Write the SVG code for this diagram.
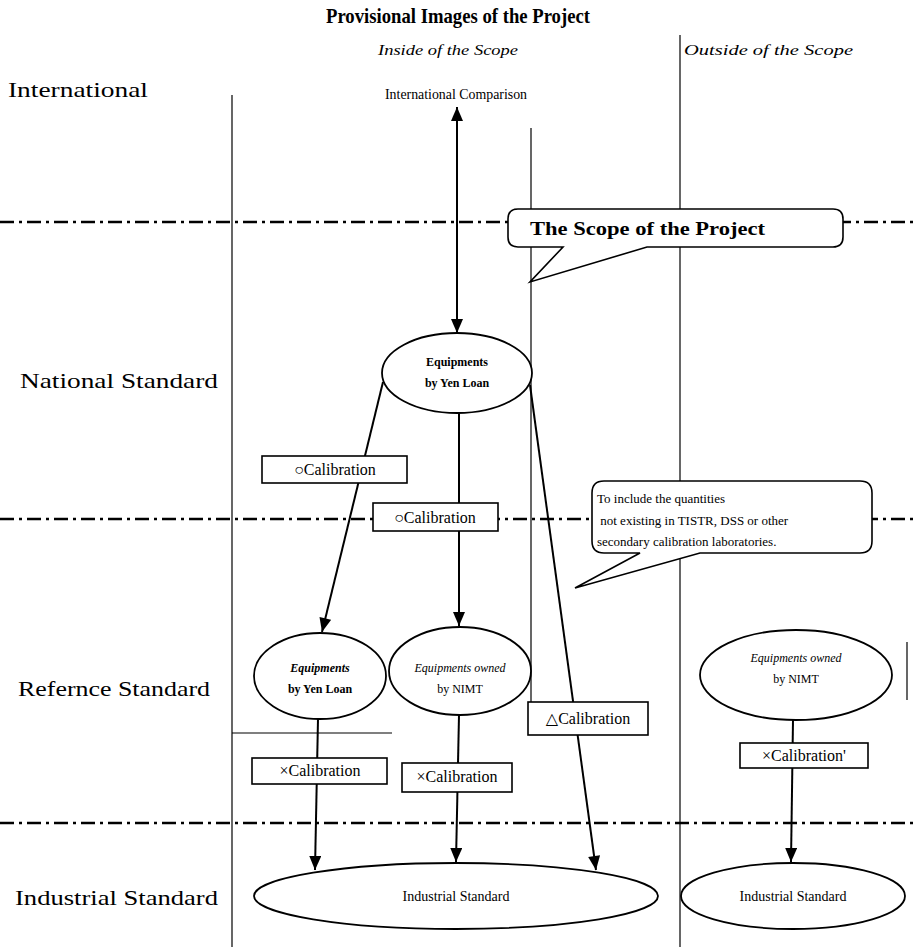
<svg xmlns="http://www.w3.org/2000/svg" width="915" height="947" viewBox="0 0 915 947">
<defs>
<marker id="ah" viewBox="0 0 14 12" refX="14" refY="6" markerWidth="15" markerHeight="12" markerUnits="userSpaceOnUse" orient="auto-start-reverse">
<path d="M0,0 L14,6 L0,12 Z" fill="#000"/>
</marker>
<style>
text{font-family:"Liberation Serif","DejaVu Serif",serif;fill:#000}
.lbl{font-size:21px}
.it{font-style:italic;font-size:15px}
.node{fill:#fff;stroke:#000;stroke-width:1.8}
.box{fill:#fff;stroke:#000;stroke-width:1.6}
.cal{font-size:16px;text-anchor:middle}
.small{font-size:12px;text-anchor:middle}
.b{font-weight:bold}
.ddot{stroke:#000;stroke-width:2.6;stroke-dasharray:14 5 3 5;fill:none}
.thin{stroke:#000;stroke-width:1.2;fill:none}
.conn{stroke:#000;stroke-width:2;fill:none}
</style>
</defs>
<rect width="915" height="947" fill="#fff"/>

<g id="title">
<text x="326" y="23" font-size="21" font-weight="bold" textLength="264" lengthAdjust="spacingAndGlyphs">Provisional Images of the Project</text>
<text class="it" x="378" y="55" textLength="140" lengthAdjust="spacingAndGlyphs">Inside of the Scope</text>
<text class="it" x="684" y="55" textLength="169" lengthAdjust="spacingAndGlyphs">Outside of the Scope</text>
</g>

<g id="grid">
<line class="thin" x1="232" y1="95" x2="232" y2="947" stroke-width="1"/>
<line class="thin" x1="680" y1="35" x2="680" y2="947"/>
<line class="thin" x1="531" y1="128" x2="531" y2="705"/>
<line class="thin" x1="232" y1="733" x2="392" y2="733"/>
<line class="thin" x1="907" y1="642" x2="907" y2="700"/>
<line class="ddot" x1="0" y1="222" x2="915" y2="222"/>
<line class="ddot" x1="0" y1="519" x2="915" y2="519"/>
<line class="ddot" x1="0" y1="823" x2="915" y2="823"/>
</g>

<g id="levels">
<text class="lbl" x="8" y="97" textLength="140" lengthAdjust="spacingAndGlyphs">International</text>
<text class="lbl" x="20" y="388" textLength="198" lengthAdjust="spacingAndGlyphs">National Standard</text>
<text class="lbl" x="18" y="696" textLength="192" lengthAdjust="spacingAndGlyphs">Refernce Standard</text>
<text class="lbl" x="15" y="905" textLength="203" lengthAdjust="spacingAndGlyphs">Industrial Standard</text>
</g>

<g id="connectors">
<line class="conn" x1="457" y1="107" x2="457" y2="333" marker-start="url(#ah)" marker-end="url(#ah)"/>
<line class="conn" x1="383" y1="382" x2="322" y2="632" marker-end="url(#ah)"/>
<line class="conn" x1="459" y1="413" x2="459" y2="626" marker-end="url(#ah)"/>
<line class="conn" x1="530" y1="385" x2="596" y2="870" marker-end="url(#ah)"/>
<line class="conn" x1="318" y1="719" x2="315" y2="870" marker-end="url(#ah)"/>
<line class="conn" x1="459" y1="715" x2="456" y2="862" marker-end="url(#ah)"/>
<line class="conn" x1="793" y1="720" x2="791" y2="862" marker-end="url(#ah)"/>
</g>

<g id="intl-comparison">
<text x="456" y="99" font-size="14" text-anchor="middle" textLength="142" lengthAdjust="spacingAndGlyphs">International Comparison</text>
</g>

<g id="scope-callout">
<path class="box" d="M518,209 H833 Q843,209 843,219 V237 Q843,247 833,247 H647 L530,282 L563,247 H518 Q508,247 508,237 V219 Q508,209 518,209 Z"/>
<text x="530" y="235" font-size="18" font-weight="bold" textLength="235" lengthAdjust="spacingAndGlyphs">The Scope of the Project</text>
</g>

<g id="note-callout">
<path class="box" d="M604,481 H860 Q872,481 872,493 V541 Q872,553 860,553 H700 L575,588 L640,553 H604 Q592,553 592,541 V493 Q592,481 604,481 Z"/>
<text x="597" y="503" font-size="13">To include the quantities</text>
<text x="597" y="525" font-size="13" xml:space="preserve"> not existing in TISTR, DSS or other</text>
<text x="597" y="546" font-size="13">secondary calibration laboratories.</text>
</g>

<g id="nat-yen">
<ellipse class="node" cx="457" cy="373" rx="75" ry="40"/>
<text class="small b" x="457" y="366">Equipments</text>
<text class="small b" x="457" y="387">by Yen Loan</text>
</g>

<g id="cal-o1">
<rect class="box" x="262" y="456" width="145" height="27"/>
<text class="cal" x="335" y="475">○Calibration</text>
</g>
<g id="cal-o2">
<rect class="box" x="373" y="503" width="125" height="28"/>
<text class="cal" x="435" y="523">○Calibration</text>
</g>

<g id="ref-yen">
<ellipse class="node" cx="320" cy="676" rx="66" ry="43"/>
<text class="small b" x="320" y="672" font-style="italic">Equipments</text>
<text class="small b" x="320" y="693">by Yen Loan</text>
</g>
<g id="ref-nimt">
<ellipse class="node" cx="460" cy="671" rx="71" ry="44"/>
<text class="small" x="460" y="672" font-style="italic">Equipments owned</text>
<text class="small" x="460" y="693">by NIMT</text>
</g>
<g id="ref-nimt-out">
<ellipse class="node" cx="796" cy="675" rx="96" ry="45"/>
<text class="small" x="796" y="662" font-style="italic">Equipments owned</text>
<text class="small" x="796" y="683">by NIMT</text>
</g>

<g id="cal-d">
<rect class="box" x="528" y="702" width="120" height="33"/>
<text class="cal" x="588" y="724">△Calibration</text>
</g>
<g id="cal-x1">
<rect class="box" x="252" y="758" width="135" height="26"/>
<text class="cal" x="320" y="776" font-size="15">×Calibration</text>
</g>
<g id="cal-x2">
<rect class="box" x="402" y="763" width="110" height="29"/>
<text class="cal" x="457" y="782" font-size="15">×Calibration</text>
</g>
<g id="cal-x3">
<rect class="box" x="740" y="743" width="128" height="25"/>
<text class="cal" x="804" y="761" font-size="15">×Calibration'</text>
</g>

<g id="ind-in">
<ellipse class="node" cx="456" cy="896" rx="202" ry="33"/>
<text x="456" y="901" font-size="14" text-anchor="middle">Industrial Standard</text>
</g>
<g id="ind-out">
<ellipse class="node" cx="793" cy="896" rx="112" ry="33"/>
<text x="793" y="901" font-size="14" text-anchor="middle">Industrial Standard</text>
</g>
</svg>
